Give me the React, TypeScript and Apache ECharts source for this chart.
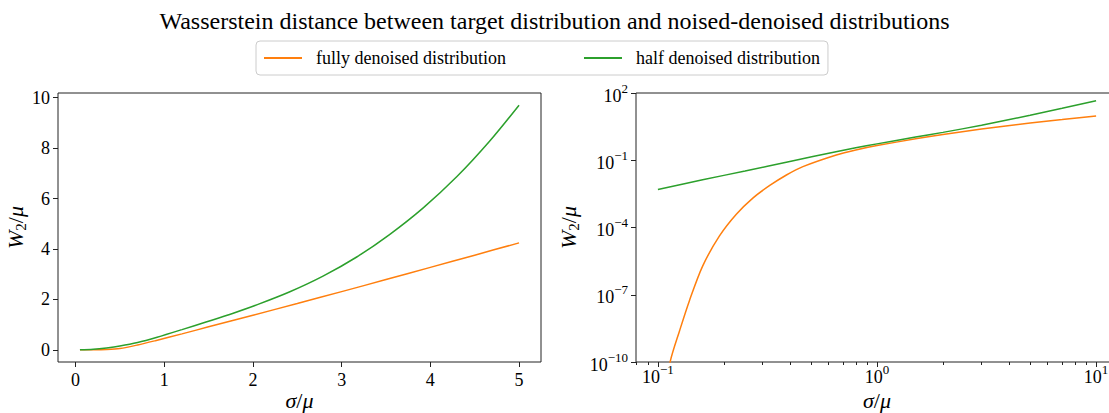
import React, { useEffect, useRef } from "react";
import * as echarts from "echarts";

// ---- data ----
const titleText = "Wasserstein distance between target distribution and noised-denoised distributions";
const seriesNames = ["fully denoised distribution", "half denoised distribution"];

// left panel (linear axes)
const leftOrangeS = [0.05, 0.2, 0.35, 0.5, 0.7, 0.9, 1.2, 1.5, 2.0, 2.5, 3.0, 3.5, 4.0, 4.5, 5.0];
const leftOrange = [0.0, 0.0005, 0.01, 0.05, 0.19, 0.36, 0.63, 0.91, 1.37, 1.835, 2.307, 2.785, 3.268, 3.753, 4.24];
const leftGreenS = [0.05, 0.2, 0.35, 0.5, 0.7, 0.92, 1.2, 1.48, 1.77, 2.05, 2.41, 2.79, 3.17, 3.54, 3.92, 4.3, 4.67, 5.0];
const leftGreen = [0.001, 0.022, 0.075, 0.15, 0.29, 0.5, 0.8, 1.11, 1.44, 1.79, 2.29, 2.92, 3.68, 4.57, 5.63, 6.87, 8.28, 9.7];
const leftXTicks = [0, 1, 2, 3, 4, 5];
const leftYTicks = [0, 2, 4, 6, 8, 10];

// right panel (log-log axes)
const rightOrangeS = [0.1, 0.114, 0.1256, 0.1394, 0.16, 0.191, 0.228, 0.272, 0.324, 0.386, 0.459, 0.652, 0.8, 1.0, 1.5, 2.0, 3.0, 5.0, 7.0, 10.0];
const rightOrange = [1.6e-13, 1.12e-10, 2.5e-9, 5.6e-8, 1.9e-6, 4.2e-5, 3.9e-4, 2.1e-3, 7.5e-3, 0.022, 0.052, 0.172, 0.288, 0.45, 0.906, 1.41, 2.45, 4.55, 6.5, 9.42];
const rightGreenS = [0.1, 0.16, 0.25, 0.4, 0.65, 0.8, 1.0, 1.5, 2.0, 3.0, 5.0, 7.0, 10.0];
const rightGreen = [0.005, 0.0135, 0.033, 0.088, 0.24, 0.36, 0.537, 1.08, 1.75, 3.66, 10.2, 20.8, 45.4];
const rightXTickExp = [-1, 0, 1];
const rightYTickExp = [-10, -7, -4, -1, 2];
const minorMultipliers = [2, 3, 4, 5, 6, 7, 8, 9];
const minorDecades = [-2, -1, 0, 1];

const ORANGE = "#ff7f0e";
const GREEN = "#2ca02c";
const FONT = "Liberation Serif";
const AXIS_COLOR = "#222";

export default function App() {
  const ref = useRef<HTMLDivElement>(null);

  useEffect(() => {
    if (!ref.current) return;
    const chart = echarts.init(ref.current, null, { renderer: "svg" });

    const lx0 = leftGreenS[0], lx1 = leftGreenS[leftGreenS.length - 1];
    const lxPad = (lx1 - lx0) * 0.05;
    const ly1 = Math.max(...leftGreen);
    const lyPad = ly1 * 0.05;

    const minorTicks: number[] = [];
    minorDecades.forEach((d) => minorMultipliers.forEach((m) => {
      const v = Math.log10(m * Math.pow(10, d));
      if (v > -1.1 && v < 1.1) minorTicks.push(v);
    }));

    const supFmt = (v: number) => {
      const e = Math.round(v);
      const s = e < 0 ? "\u2212" + Math.abs(e) : String(e);
      return `{b|10}{s|${s}}`;
    };
    const supRich = {
      b: { fontFamily: FONT, fontSize: 18, color: "#000", lineHeight: 23, verticalAlign: "bottom" },
      s: { fontFamily: FONT, fontSize: 13, color: "#000", lineHeight: 13, verticalAlign: "top" },
    };
    const yNameRich = {
      i: { fontFamily: FONT, fontStyle: "italic", fontSize: 22, color: "#000", lineHeight: 24, verticalAlign: "top" },
      n: { fontFamily: FONT, fontSize: 22, color: "#000", lineHeight: 24, verticalAlign: "top" },
      sub: { fontFamily: FONT, fontSize: 15, color: "#000", lineHeight: 15, verticalAlign: "bottom" },
    };
    const xNameRich = {
      i: { fontFamily: FONT, fontStyle: "italic", fontSize: 22, color: "#000", lineHeight: 22, verticalAlign: "top" },
      n: { fontFamily: FONT, fontSize: 22, color: "#000", lineHeight: 22, verticalAlign: "top" },
    };
    const labelStyle = { fontFamily: FONT, fontSize: 18, color: "#000" };
    const tick = (vals: number[], len = 5) => ({ show: true, customValues: vals, length: len, lineStyle: { color: AXIS_COLOR, width: 1 } });
    const noLine = { show: false, onZero: false };

    const lineStyle = (c: string) => ({ color: c, width: 1.5 });
    const common = { type: "line", symbol: "none", smooth: 0.3, clip: true };

    chart.setOption({
      animation: false,
      backgroundColor: "#fff",
      title: {
        text: titleText,
        left: "center",
        top: 4,
        textStyle: { fontFamily: FONT, fontSize: 24, fontWeight: "normal", color: "#000" },
      },
      legend: {
        data: seriesNames,
        left: 256,
        top: 41,
        itemWidth: 38,
        itemHeight: 14,
        itemGap: 77,
        padding: [8, 8, 8, 7],
        borderColor: "#ccc",
        borderWidth: 1,
        borderRadius: 4,
        itemStyle: { opacity: 0 },
        textStyle: { fontFamily: FONT, fontSize: 18, color: "#000", padding: [0, 0, 0, 9] },
        selectedMode: false,
      },
      grid: [
        { left: 58, top: 93, width: 483, height: 269, show: true, borderColor: AXIS_COLOR, borderWidth: 1, backgroundColor: "transparent", outerBoundsMode: "none", containLabel: false },
        { left: 636, top: 93, width: 482, height: 269, show: true, borderColor: AXIS_COLOR, borderWidth: 1, backgroundColor: "transparent", outerBoundsMode: "none", containLabel: false },
      ],
      xAxis: [
        {
          type: "value", gridIndex: 0, position: "bottom", min: lx0 - lxPad, max: lx1 + lxPad,
          axisLine: noLine, splitLine: { show: false },
          axisTick: tick(leftXTicks),
          axisLabel: { ...labelStyle, customValues: leftXTicks, margin: 9 },
          name: "{i|σ}{n|/}{i|μ}", nameLocation: "middle", nameGap: 27, nameMoveOverlap: false,
          nameTextStyle: { rich: xNameRich },
        },
        {
          type: "value", gridIndex: 1, position: "bottom", min: -1.1, max: 1.1,
          axisLine: noLine, splitLine: { show: false },
          axisTick: tick(rightXTickExp),
          axisLabel: { customValues: rightXTickExp, margin: 1, formatter: supFmt, rich: supRich },
          name: "{i|σ}{n|/}{i|μ}", nameLocation: "middle", nameGap: 27, nameMoveOverlap: false,
          nameTextStyle: { rich: xNameRich },
        },
        {
          type: "value", gridIndex: 1, position: "bottom", offset: 0, min: -1.1, max: 1.1,
          axisLine: noLine, splitLine: { show: false },
          axisTick: tick(minorTicks, 3),
          axisLabel: { show: false },
        },
      ],
      yAxis: [
        {
          type: "value", gridIndex: 0, position: "left", min: -lyPad, max: ly1 + lyPad,
          axisLine: noLine, splitLine: { show: false },
          axisTick: tick(leftYTicks),
          axisLabel: { ...labelStyle, customValues: leftYTicks, margin: 8 },
          name: "{i|W}{sub|2}{n|/}{i|μ}", nameLocation: "middle", nameGap: 24,
          nameTextStyle: { rich: yNameRich },
        },
        {
          type: "value", gridIndex: 1, position: "left", min: -10, max: 2,
          axisLine: noLine, splitLine: { show: false },
          axisTick: tick(rightYTickExp),
          axisLabel: { customValues: rightYTickExp, margin: 8, formatter: supFmt, rich: supRich },
          name: "{i|W}{sub|2}{n|/}{i|μ}", nameLocation: "middle", nameGap: 55,
          nameTextStyle: { rich: yNameRich },
        },
      ],
      series: [
        {
          ...common, name: seriesNames[0], xAxisIndex: 0, yAxisIndex: 0,
          lineStyle: lineStyle(ORANGE), itemStyle: { color: ORANGE },
          data: leftOrangeS.map((s, i) => [s, leftOrange[i]]),
        },
        {
          ...common, name: seriesNames[1], xAxisIndex: 0, yAxisIndex: 0,
          lineStyle: lineStyle(GREEN), itemStyle: { color: GREEN },
          data: leftGreenS.map((s, i) => [s, leftGreen[i]]),
        },
        {
          ...common, name: seriesNames[0], xAxisIndex: 1, yAxisIndex: 1,
          lineStyle: lineStyle(ORANGE), itemStyle: { color: ORANGE },
          data: rightOrangeS.map((s, i) => [Math.log10(s), Math.log10(rightOrange[i])]),
        },
        {
          ...common, name: seriesNames[1], xAxisIndex: 1, yAxisIndex: 1,
          lineStyle: lineStyle(GREEN), itemStyle: { color: GREEN },
          data: rightGreenS.map((s, i) => [Math.log10(s), Math.log10(rightGreen[i])]),
        },
      ],
    });

    return () => chart.dispose();
  }, []);

  return (
    <div
      ref={ref}
      style={{ position: "fixed", left: 0, top: 0, width: 1109, height: 413, background: "#fff" }}
    />
  );
}
